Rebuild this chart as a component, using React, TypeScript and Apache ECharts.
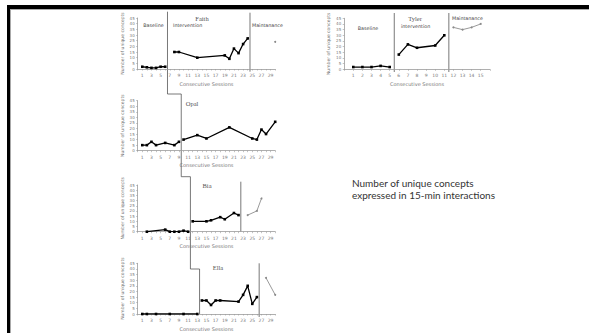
import React, { useEffect, useRef } from 'react';
import * as echarts from 'echarts';

// ---- data: [session, number of unique concepts] ----
const faithBaseline = [[1, 2], [2, 1.5], [3, 1], [4, 1], [5, 2], [6, 2]];
const faithIntervention = [[8, 15], [9, 15], [13, 10], [19, 12], [20, 9], [21, 18], [22, 14], [23, 22], [24, 27]];
const faithMaintenance = [[30, 24]];

const tylerBaseline = [[1, 2], [2, 2], [3, 2], [4, 3], [5, 2]];
const tylerIntervention = [[6, 13], [7, 22], [8, 19], [10, 21], [11, 30]];
const tylerMaintenance = [[12, 37], [13, 35], [14, 37], [15, 40]];

const opalBaseline = [[1, 5], [2, 5], [3, 8], [4, 5], [6, 7], [8, 5], [9, 8]];
const opalIntervention = [[10, 10], [13, 14], [15, 11], [20, 21], [25, 11], [26, 10], [27, 19], [28, 15], [30, 26]];

const biaBaseline = [[2, 0], [6, 2], [7, 0], [8, 0], [9, 0], [10, 1], [11, 0]];
const biaIntervention = [[12, 10], [15, 10], [16, 11], [18, 14], [19, 12], [21, 18], [22, 16]];
const biaMaintenance = [[24, 16], [26, 20], [27, 32]];

const ellaBaseline = [[1, 0], [2, 0], [4, 0], [7, 0], [10, 0], [13, 0]];
const ellaIntervention = [[14, 12], [15, 12], [16, 8], [17, 12], [18, 12], [22, 11], [23, 17], [24, 25], [25, 9], [26, 15]];
const ellaMaintenance = [[28, 32], [30, 17]];

// phase-change sessions
const faithPhases = [6.5, 24.5];
const tylerPhases = [5.5, 11.5];
const opalPhases = [9.5];
const biaPhases = [11.5, 22.5];
const ellaPhases = [13.5, 26.5];

const names = ['Faith', 'Tyler', 'Opal', 'Bia', 'Ella'];
const yTicks = { min: 0, max: 45, interval: 5 };
const xAxisTitle = 'Consecutive Sessions';
const yAxisTitle = 'Number of unique concepts';
const note = 'Number of unique concepts\nexpressed in 15-min interactions';

const grids = [
  { left: 137.7, top: 18, width: 137.5, height: 51 },
  { left: 344.2, top: 18.3, width: 145.6, height: 51 },
  { left: 137.7, top: 100.7, width: 137.5, height: 50 },
  { left: 137.7, top: 185, width: 137.5, height: 46.7 },
  { left: 137.7, top: 263.3, width: 137.5, height: 50.7 },
];
const xMax = [30, 16, 30, 30, 30];

const AXIS_GRAY = '#9a9a9a';
const LABEL_GRAY = '#777';

function lineSeries(data: number[][], gi: number, maint = false) {
  return {
    type: 'line',
    xAxisIndex: gi,
    yAxisIndex: gi,
    data,
    symbol: maint ? 'circle' : 'rect',
    symbolSize: maint ? 2 : 2.6,
    itemStyle: { color: maint ? '#8a8a8a' : '#000' },
    lineStyle: { color: maint ? '#9a9a9a' : '#000', width: maint ? 1 : 1.3 },
    silent: true,
  };
}

export default function App() {
  const ref = useRef<HTMLDivElement>(null);
  useEffect(() => {
    const chart = echarts.init(ref.current!, null, { renderer: 'svg' });
    const xAxes = grids.map((_, i) => ({
      type: 'value',
      gridIndex: i,
      min: 0,
      max: xMax[i],
      interval: 1,
      name: xAxisTitle,
      nameLocation: 'middle',
      nameGap: 12,
      nameTextStyle: { fontSize: 5, color: LABEL_GRAY, fontFamily: 'DejaVu Sans' },
      axisLine: { lineStyle: { color: AXIS_GRAY, width: 0.8 } },
      axisTick: { length: 1.5, lineStyle: { color: AXIS_GRAY, width: 0.6 } },
      axisLabel: {
        fontSize: 4.5,
        color: LABEL_GRAY,
        margin: 4,
        fontFamily: 'DejaVu Sans',
        formatter: (v: number) => (v >= 1 && v <= (i === 1 ? 15 : 29) && (i === 1 || v % 2 === 1) ? String(v) : ''),
      },
      splitLine: { show: false },
    }));
    const yAxes = grids.map((_, i) => ({
      type: 'value',
      gridIndex: i,
      ...yTicks,
      name: yAxisTitle,
      nameLocation: 'middle',
      nameRotate: 90,
      nameGap: 13,
      nameTextStyle: { fontSize: 4.5, color: LABEL_GRAY, fontFamily: 'DejaVu Sans' },
      axisLine: { show: true, lineStyle: { color: AXIS_GRAY, width: 0.8 } },
      axisTick: { show: true, length: 1.5, lineStyle: { color: AXIS_GRAY, width: 0.6 } },
      axisLabel: { fontSize: 4, color: LABEL_GRAY, margin: 3, fontFamily: 'DejaVu Sans' },
      splitLine: { show: false },
    }));
    const series = [
      lineSeries(faithBaseline, 0), lineSeries(faithIntervention, 0), lineSeries(faithMaintenance, 0, true),
      lineSeries(tylerBaseline, 1), lineSeries(tylerIntervention, 1), lineSeries(tylerMaintenance, 1, true),
      lineSeries(opalBaseline, 2), lineSeries(opalIntervention, 2),
      lineSeries(biaBaseline, 3), lineSeries(biaIntervention, 3), lineSeries(biaMaintenance, 3, true),
      lineSeries(ellaBaseline, 4), lineSeries(ellaIntervention, 4), lineSeries(ellaMaintenance, 4, true),
    ];
    chart.setOption({
      animation: false,
      backgroundColor: '#fff',
      grid: grids,
      xAxis: xAxes,
      yAxis: yAxes,
      series,
    });

    const px = (gi: number, x: number, y: number) => chart.convertToPixel({ gridIndex: gi }, [x, y]) as number[];
    const top = (gi: number) => grids[gi].top;
    const bottom = (gi: number) => grids[gi].top + grids[gi].height;
    const lineStyle = { stroke: '#555', lineWidth: 0.8, fill: 'none' };

    // staircase of the multiple-baseline design
    const fx = px(0, faithPhases[0], 0)[0];
    const ox = px(2, opalPhases[0], 0)[0];
    const bx = px(3, biaPhases[0], 0)[0];
    const ex = px(4, ellaPhases[0], 0)[0];
    const stair = [
      [fx, top(0) - 6.3], [fx, top(2) - 6.7], [ox, top(2) - 6.7], [ox, top(3) - 8.3],
      [bx, top(3) - 8.3], [bx, top(4) + 5.7], [ex, top(4) + 5.7], [ex, bottom(4)],
    ];
    const vline = (gi: number, s: number, y0: number, y1: number) => {
      const x = px(gi, s, 0)[0];
      return { type: 'line', shape: { x1: x, y1: y0, x2: x, y2: y1 }, style: lineStyle, silent: true };
    };
    const txt = (x: number, y: number, text: string, size: number, align = 'left', serif = false, color = '#444') => ({
      type: 'text',
      x, y,
      style: {
        text, fontSize: size, fill: color, align, verticalAlign: 'middle',
        fontFamily: serif ? 'Liberation Serif' : 'DejaVu Sans',
      },
      silent: true,
    });

    const graphic: any[] = [
      // slide frame
      { type: 'rect', shape: { x: 7, y: 5, width: 3, height: 330 }, style: { fill: '#000' }, silent: true },
      { type: 'rect', shape: { x: 7, y: 5, width: 590, height: 4 }, style: { fill: '#000' }, silent: true },
      { type: 'rect', shape: { x: 10, y: 9, width: 1, height: 330 }, style: { fill: '#aaa' }, silent: true },
      { type: 'rect', shape: { x: 10, y: 9, width: 590, height: 1 }, style: { fill: '#aaa' }, silent: true },
      { type: 'polyline', shape: { points: stair }, style: lineStyle, silent: true },
      vline(0, faithPhases[1], top(0) - 5.3, bottom(0) + 2.7),
      vline(1, tylerPhases[0], top(1) - 5.3, bottom(1) + 2.7),
      vline(1, tylerPhases[1], top(1) - 5.3, bottom(1) + 2.7),
      vline(3, biaPhases[1], top(3) - 3.3, bottom(3)),
      vline(4, ellaPhases[1], top(4), bottom(4) + 3),
      // panel names
      txt(202, 18, names[0], 6.5, 'center', true, '#555'),
      txt(415, 18, names[1], 6.5, 'center', true, '#555'),
      txt(192, 103.5, names[2], 6.5, 'center', true, '#555'),
      txt(207, 185.5, names[3], 6.5, 'center', true, '#555'),
      txt(218, 267, names[4], 6.5, 'center', true, '#555'),
      // phase labels
      txt(153.5, 25, 'Baseline', 4.8, 'center'),
      txt(173, 25, 'Intervention', 4.8),
      txt(252, 25, 'Maintanance', 4.8),
      txt(368, 28, 'Baseline', 4.8, 'center'),
      txt(401, 26.7, 'intervention', 4.8),
      txt(452, 18, 'Maintanance', 4.8),
      // note
      {
        type: 'text', x: 352, y: 189,
        style: { text: note, fontSize: 10, lineHeight: 12, fill: '#333', fontFamily: 'Lato', fontWeight: 'normal', verticalAlign: 'middle' },
        silent: true,
      },
    ];
    chart.setOption({ graphic });
    return () => chart.dispose();
  }, []);
  return <div ref={ref} style={{ position: 'absolute', left: 0, top: 0, width: 589, height: 333 }} />;
}
